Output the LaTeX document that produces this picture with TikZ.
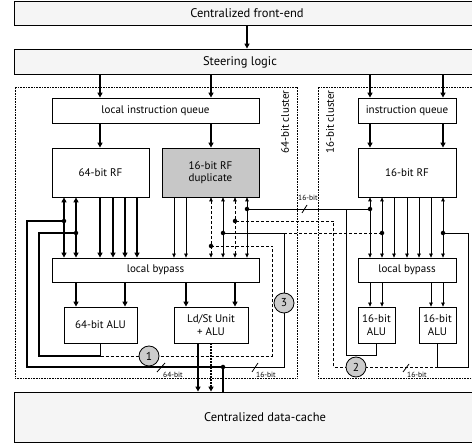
\documentclass[tikz,border=0pt]{standalone}
\usepackage{fontspec}
\setmainfont{PT Sans}
\usetikzlibrary{arrows.meta}
\begin{document}
\begin{tikzpicture}[x=1pt,y=-1pt,
  box/.style={draw, line width=0.8pt, inner sep=0pt, align=center},
  cbox/.style={box, fill=black!4},
  gbox/.style={box, fill=black!22},
  cluster/.style={draw, line width=0.7pt, dash pattern=on 0.8pt off 0.8pt, inner sep=0pt},
  txt/.style={inner sep=0pt, align=center, font=\fontsize{11}{12.5}\selectfont},
  bigtxt/.style={inner sep=0pt, font=\fontsize{12.5}{14}\selectfont},
  lbl/.style={inner sep=0pt, font=\fontsize{7.5}{9}\selectfont},
  dot/.style={circle, fill=black, inner sep=0pt, minimum size=4.5pt},
  numc/.style={circle, draw, line width=0.8pt, fill=black!20, inner sep=0pt, minimum size=20pt, font=\fontsize{11.5}{12}\selectfont},
  tk/.style={line width=1.7pt},
  tn/.style={line width=0.8pt},
  tka/.style={tk, -{Triangle[length=5pt,width=5pt]}},
  tkb/.style={tk, {Triangle[length=5pt,width=5pt]}-{Triangle[length=5pt,width=5pt]}},
  tna/.style={tn, -{Triangle[length=4pt,width=3.6pt]}},
  tnb/.style={tn, {Triangle[length=4pt,width=3.6pt]}-{Triangle[length=4pt,width=3.6pt]}},
  dsh/.style={dash pattern=on 3pt off 2pt},
  dtd/.style={dash pattern=on 1.7pt off 1.3pt}]
\useasboundingbox (0,0) rectangle (472,443);
\clip (0,0) rectangle (472,443);
\fill[white] (0,0) rectangle (472,443);

% central boxes
\node[cbox, minimum width=466, minimum height=24] (fe) at (247,13) {};
\node[bigtxt] (fet) at (247,13) {Centralized front-end};
\node[cbox, minimum width=466, minimum height=25] (sl) at (247,61.5) {};
\node[bigtxt] (slt) at (240,62) {Steering logic};
\node[cbox, minimum width=466, minimum height=50] (dc) at (247,417) {};
\node[bigtxt] (dct) at (265,417) {Centralized data-cache};

% clusters
\node[cluster, minimum width=282, minimum height=291] (cl64) at (156,232.5) {};
\node[cluster, minimum width=162, minimum height=291] (cl16) at (399,232.5) {};
\node[txt, rotate=90] (cl64t) at (285,122) {64-bit cluster};
\node[txt, rotate=90] (cl16t) at (330,122) {16-bit cluster};

% 64-bit cluster boxes
\node[box, txt, minimum width=207, minimum height=25] (q64) at (155.5,110.5) {local instruction queue};
\node[box, txt, minimum width=97, minimum height=49] (rf64) at (100.5,172.5) {64-bit RF};
\node[gbox, txt, minimum width=97, minimum height=49] (rfd) at (210.5,172.5) {16-bit RF\\duplicate};
\node[box, txt, minimum width=207, minimum height=24] (bp64) at (155.5,270) {local bypass};
\node[box, txt, minimum width=73, minimum height=36] (alu64) at (100.5,325) {64-bit ALU};
\node[box, txt, minimum width=74, minimum height=36] (ldst) at (211,325) {Ld/St Unit\\+ ALU};

% 16-bit cluster boxes
\node[box, txt, minimum width=98, minimum height=25] (q16) at (407,110.5) {instruction queue};
\node[box, txt, minimum width=98, minimum height=49] (rf16) at (407,172.5) {16-bit RF};
\node[box, txt, minimum width=98, minimum height=24] (bp16) at (407,270) {local bypass};
\node[box, txt, minimum width=37, minimum height=36] (alu16a) at (376.5,325) {16-bit\\ALU};
\node[box, txt, minimum width=37, minimum height=36] (alu16b) at (437.5,325) {16-bit\\ALU};

% dots
\node[dot] (d1) at (64,221) {};
\node[dot] (d2) at (76,233) {};
\node[dot] (d3) at (211,246) {};
\node[dot] (d4) at (223,233) {};
\node[dot] (d5) at (235,221) {};
\node[dot] (d6) at (247,209) {};
\node[dot] (d7) at (370,209) {};
\node[dot] (d8) at (382,233) {};
\node[dot] (d9) at (443,233) {};
\node[dot] (d10) at (223,367) {};

% top arrows
\draw[tka] (fe.south -| 247,0) -- (sl.north -| 247,0);
\foreach \x in {100,211} \draw[tka] (sl.south -| \x,0) -- (q64.north -| \x,0);
\foreach \x in {370,443} \draw[tka] (sl.south -| \x,0) -- (q16.north -| \x,0);
\draw[tka] (q64.south -| 100,0) -- (rf64.north -| 100,0);
\draw[tka] (q64.south -| 211,0) -- (rfd.north -| 211,0);
\foreach \x in {370,443} \draw[tka] (q16.south -| \x,0) -- (rf16.north -| \x,0);

% RF -> bypass, 64-bit cluster
\foreach \x in {64,76} \draw[tkb] (rf64.south -| \x,0) -- (bp64.north -| \x,0);
\foreach \x in {100,113,125,137} \draw[tka] (rf64.south -| \x,0) -- (bp64.north -| \x,0);
\foreach \x in {174,186} \draw[tna] (rfd.south -| \x,0) -- (bp64.north -| \x,0);
\foreach \x in {223,247} \draw[tnb] (rfd.south -| \x,0) -- (bp64.north -| \x,0);
\foreach \x in {211,235} \draw[tnb,dsh] (rfd.south -| \x,0) -- (bp64.north -| \x,0);

% RF -> bypass, 16-bit cluster
\foreach \x in {370,382,443} \draw[tnb] (rf16.south -| \x,0) -- (bp16.north -| \x,0);
\foreach \x in {394,407,419,431} \draw[tna] (rf16.south -| \x,0) -- (bp16.north -| \x,0);

% bypass -> units
\foreach \x in {76,125} \draw[tka] (bp64.south -| \x,0) -- (alu64.north -| \x,0);
\foreach \x in {186,235} \draw[tka] (bp64.south -| \x,0) -- (ldst.north -| \x,0);
\foreach \x in {370,382} \draw[tna] (bp16.south -| \x,0) -- (alu16a.north -| \x,0);
\foreach \x in {431,443} \draw[tna] (bp16.south -| \x,0) -- (alu16b.north -| \x,0);

% 64-bit ALU result
\draw[tk] (alu64.south) |- (39,356) |- (d2);
\draw[tn,dsh] (alu64.south |- 0,356) -| (272,246) -- (d3);

% load result from data-cache
\draw[tk] (d1) -| (27,367) -- (d10);
\draw[tk] (d10) -- (dc.north -| d10);
\draw[tn] (d10) -| (284,233) -- (d4);
\draw[tn,dsh] (284,233) -- (d8);

% Ld/St unit to data-cache
\draw[tka] (ldst.south -| 198,0) -- (dc.north -| 198,0);
\draw[tk, dtd, -{Triangle[length=5pt,width=5pt]}] (ldst.south -| 211,0) -- (dc.north -| 211,0);

% 16-bit ALU results
\draw[tn] (alu16a.south) |- (346,355) -- (346,209);
\draw[tn] (d6) -- (d7);
\draw[tn] (alu16b.south) |- (468,367) |- (d9);
\draw[tn,dsh] (alu16b.south |- 0,367) -| (333,221) -- (d5);

% numbered circles
\node[numc] (c1) at (149,356) {1};
\node[numc] (c3) at (284,303) {3};
\node[numc] (c2) at (356,367) {2};

% width marks
\draw[tn] (157,372) -- (165,363);
\node[lbl, anchor=west] (w1) at (163,375) {64-bit};
\draw[tn] (252,372) -- (258,363);
\node[lbl, anchor=west] (w2) at (256,375) {16-bit};
\draw[tn] (403,372) -- (409,364);
\node[lbl, anchor=west] (w3) at (407,374.5) {16-bit};
\draw[tn] (302,213) -- (307,205);
\node[lbl, anchor=west] (w4) at (298,197.5) {16-bit};
\end{tikzpicture}
\end{document}
